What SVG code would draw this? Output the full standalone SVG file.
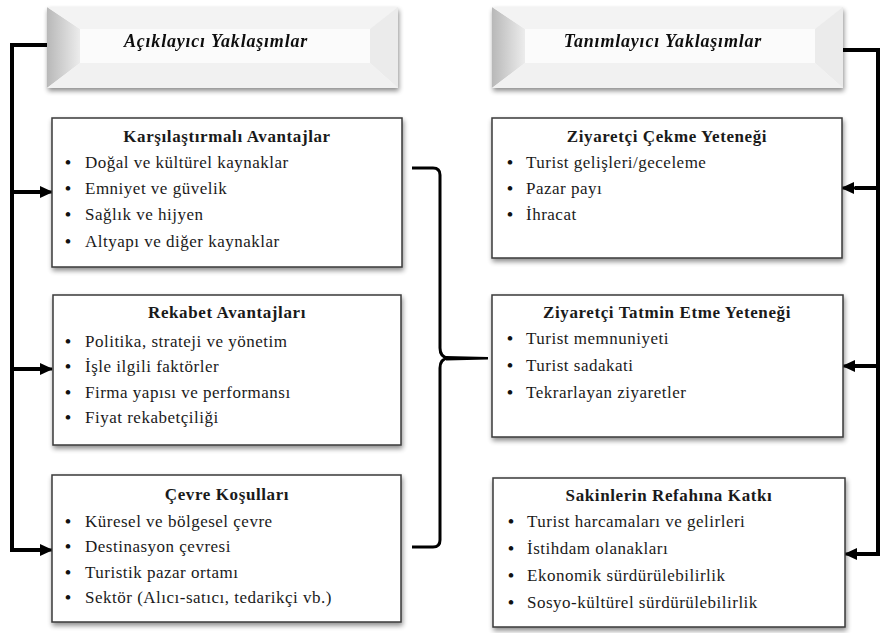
<svg xmlns="http://www.w3.org/2000/svg" width="881" height="633" viewBox="0 0 881 633">
<style>
.box{fill:#fff;stroke:#3a3a3a;stroke-width:1.5}
.t{font-family:"Liberation Serif","Times New Roman",serif;font-size:17px;letter-spacing:0.5px;fill:#1a1a1a}
.h{font-weight:bold;text-anchor:middle;letter-spacing:0.6px}
.hd{font-family:"Liberation Serif","Times New Roman",serif;font-size:18px;font-weight:bold;font-style:italic;letter-spacing:0.8px;text-anchor:middle;fill:#111}
.b{font-family:"Liberation Serif",serif;font-size:17px;font-weight:bold;fill:#111}
.conn{fill:none;stroke:#000;stroke-width:4}
.brace{fill:none;stroke:#000;stroke-width:3}
</style>
<defs>
<filter id="sh" x="-10%" y="-10%" width="120%" height="130%">
<feGaussianBlur in="SourceAlpha" stdDeviation="2.5"/>
<feOffset dx="1" dy="3" result="o"/>
<feComponentTransfer><feFuncA type="linear" slope="0.45"/></feComponentTransfer>
<feMerge><feMergeNode/><feMergeNode in="SourceGraphic"/></feMerge>
</filter>
<linearGradient id="lg" x1="0" y1="0" x2="1" y2="0">
<stop offset="0" stop-color="#b8b8b8"/><stop offset="1" stop-color="#ececec"/>
</linearGradient>
<marker id="ah" markerUnits="userSpaceOnUse" markerWidth="14" markerHeight="14" refX="12" refY="7" orient="auto">
<path d="M0,1 L13,7 L0,13 Z" fill="#000"/>
</marker>
</defs>

<g id="connectors">
<path class="conn" d="M48 45 H12 V550 H40"/>
<path class="conn" d="M12 192 H40"/>
<path class="conn" d="M12 369 H40"/>
<line x1="12" y1="192" x2="52" y2="192" stroke="#000" stroke-width="3" marker-end="url(#ah)"/>
<line x1="12" y1="369" x2="52" y2="369" stroke="#000" stroke-width="3" marker-end="url(#ah)"/>
<line x1="12" y1="550" x2="52" y2="550" stroke="#000" stroke-width="3" marker-end="url(#ah)"/>
<path class="conn" d="M843 50 H878 V554 H855"/>
<path class="conn" d="M878 188 H855"/>
<path class="conn" d="M878 366 H855"/>
<line x1="870" y1="188" x2="842" y2="188" stroke="#000" stroke-width="3" marker-end="url(#ah)"/>
<line x1="870" y1="366" x2="843" y2="366" stroke="#000" stroke-width="3" marker-end="url(#ah)"/>
<line x1="870" y1="554" x2="845" y2="554" stroke="#000" stroke-width="3" marker-end="url(#ah)"/>
<path class="brace" d="M412 168 H433 Q440 168 440 175 V348 Q440 357 448 358 Q440 359 440 368 V540 Q440 547 433 547 H412"/>
<path d="M446 356 L488 357 L488 359.5 L446 360.5 Z" fill="#000"/>
</g>

<g id="header-left" filter="url(#sh)">
<rect x="47" y="7" width="351" height="81" fill="#f7f7f7"/>
<polygon points="47,7 80,29 80,63 47,88" fill="url(#lg)"/>
<polygon points="47,7 398,7 370,29 80,29" fill="#f3f3f3"/>
<polygon points="398,7 398,88 370,63 370,29" fill="#ebebeb"/>
<polygon points="47,88 398,88 370,63 80,63" fill="#f1f1f1"/>
<rect x="80" y="29" width="290" height="34" fill="#fbfbfb"/>
<text class="hd" x="216" y="47">Açıklayıcı Yaklaşımlar</text>
</g>

<g id="header-right" filter="url(#sh)">
<rect x="492" y="7" width="351" height="81" fill="#f7f7f7"/>
<polygon points="492,7 525,29 525,63 492,88" fill="url(#lg)"/>
<polygon points="492,7 843,7 815,29 525,29" fill="#f3f3f3"/>
<polygon points="843,7 843,88 815,63 815,29" fill="#ebebeb"/>
<polygon points="492,88 843,88 815,63 525,63" fill="#f1f1f1"/>
<rect x="525" y="29" width="290" height="34" fill="#fbfbfb"/>
<text class="hd" x="663" y="47">Tanımlayıcı Yaklaşımlar</text>
</g>

<g id="box-karsilastirmali">
<rect class="box" x="52" y="118" width="350" height="149" filter="url(#sh)"/>
<text class="t h" x="227" y="142">Karşılaştırmalı Avantajlar</text>
<text class="b" x="65" y="168">•</text><text class="t" x="85" y="168">Doğal ve kültürel kaynaklar</text>
<text class="b" x="65" y="194">•</text><text class="t" x="85" y="194">Emniyet ve güvelik</text>
<text class="b" x="65" y="220">•</text><text class="t" x="85" y="220">Sağlık ve hijyen</text>
<text class="b" x="65" y="247">•</text><text class="t" x="85" y="247">Altyapı ve diğer kaynaklar</text>
</g>

<g id="box-rekabet">
<rect class="box" x="53" y="295" width="348" height="150" filter="url(#sh)"/>
<text class="t h" x="227" y="318">Rekabet Avantajları</text>
<text class="b" x="65" y="347">•</text><text class="t" x="85" y="347">Politika, strateji  ve yönetim</text>
<text class="b" x="65" y="372">•</text><text class="t" x="85" y="372">İşle ilgili faktörler</text>
<text class="b" x="65" y="398">•</text><text class="t" x="85" y="398">Firma yapısı ve performansı</text>
<text class="b" x="65" y="423">•</text><text class="t" x="85" y="423">Fiyat rekabetçiliği</text>
</g>

<g id="box-cevre">
<rect class="box" x="52" y="475" width="349" height="147" filter="url(#sh)"/>
<text class="t h" x="227" y="500">Çevre Koşulları</text>
<text class="b" x="65" y="527">•</text><text class="t" x="85" y="527">Küresel ve bölgesel çevre</text>
<text class="b" x="65" y="552">•</text><text class="t" x="85" y="552">Destinasyon çevresi</text>
<text class="b" x="65" y="578">•</text><text class="t" x="85" y="578">Turistik pazar ortamı</text>
<text class="b" x="65" y="603">•</text><text class="t" x="85" y="603">Sektör (Alıcı-satıcı,  tedarikçi vb.)</text>
</g>

<g id="box-cekme">
<rect class="box" x="492" y="118" width="350" height="140" filter="url(#sh)"/>
<text class="t h" x="667" y="142">Ziyaretçi Çekme Yeteneği</text>
<text class="b" x="507" y="168">•</text><text class="t" x="526" y="168">Turist gelişleri/geceleme</text>
<text class="b" x="507" y="194">•</text><text class="t" x="526" y="194">Pazar payı</text>
<text class="b" x="507" y="220">•</text><text class="t" x="526" y="220">İhracat</text>
</g>

<g id="box-tatmin">
<rect class="box" x="492" y="295" width="351" height="142" filter="url(#sh)"/>
<text class="t h" x="667" y="318">Ziyaretçi Tatmin Etme Yeteneği</text>
<text class="b" x="507" y="344">•</text><text class="t" x="526" y="344">Turist memnuniyeti</text>
<text class="b" x="507" y="371">•</text><text class="t" x="526" y="371">Turist sadakati</text>
<text class="b" x="507" y="398">•</text><text class="t" x="526" y="398">Tekrarlayan  ziyaretler</text>
</g>

<g id="box-refah">
<rect class="box" x="493" y="478" width="352" height="149" filter="url(#sh)"/>
<text class="t h" x="669" y="501">Sakinlerin Refahına Katkı</text>
<text class="b" x="508" y="527">•</text><text class="t" x="527" y="527">Turist harcamaları ve gelirleri</text>
<text class="b" x="508" y="554">•</text><text class="t" x="527" y="554">İstihdam olanakları</text>
<text class="b" x="508" y="581">•</text><text class="t" x="527" y="581">Ekonomik sürdürülebilirlik</text>
<text class="b" x="508" y="608">•</text><text class="t" x="527" y="608">Sosyo-kültürel sürdürülebilirlik</text>
</g>
</svg>
